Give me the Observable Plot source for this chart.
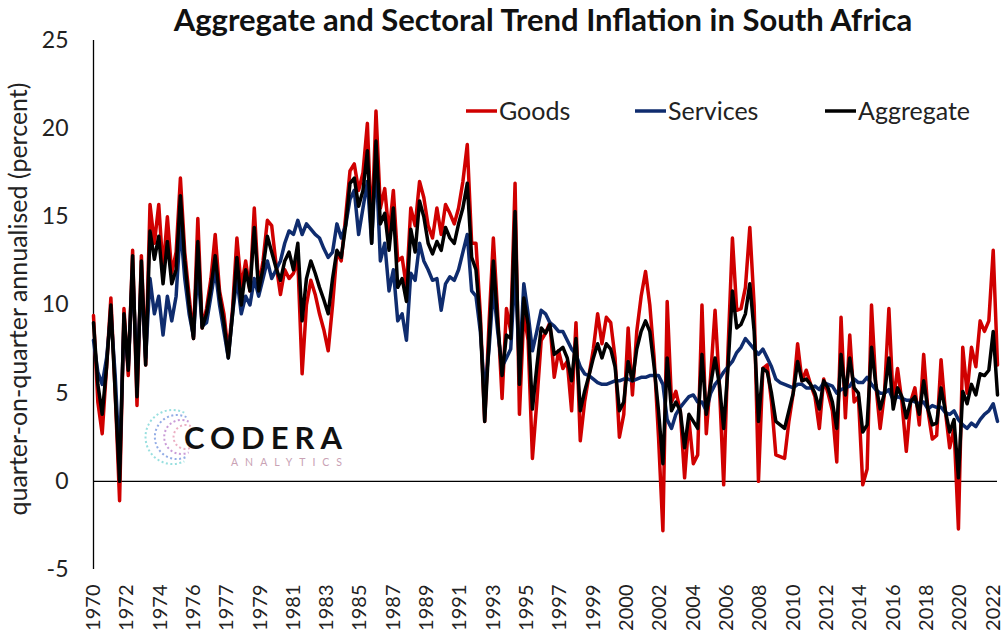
<!DOCTYPE html>
<html>
<head>
<meta charset="utf-8">
<script src="https://cdn.jsdelivr.net/npm/d3@7"></script>
<script src="https://cdn.jsdelivr.net/npm/@observablehq/plot@0.6"></script>
<style>
  html, body { margin: 0; padding: 0; background: #fff; }
  #wrap { position: relative; width: 1003px; height: 639px; overflow: hidden; background: #fff; }
  #overlay { position: absolute; left: 0; top: 0; pointer-events: none; }
</style>
</head>
<body>
<div id="wrap"></div>
<script>
// ---- Data (quarterly, 1970Q2 .. 2022Q2) ----
const firstYear = 1970, firstMonth = 3; // April 1970 (0-based month)
const seriesNames = ["Goods", "Services", "Aggregate"];
const seriesColors = ["#d00000", "#0f2c6e", "#000000"];

const goods = [
  9.4, 4.5, 2.7, 6.5, 10.4, 5.0, -1.1, 9.8, 6.0, 13.1,
  4.3, 12.8, 6.6, 15.7, 13.5, 15.7, 12.0, 15.0, 11.8, 13.0,
  17.2, 13.0, 10.5, 8.1, 14.9, 8.7, 9.8, 11.5, 14.0, 10.8,
  9.5, 7.3, 9.8, 13.8, 11.0, 12.5,
  10.8, 15.5, 11.0, 12.5, 14.8, 14.5, 12.3, 10.6, 12.0, 11.5,
  11.8, 12.5, 6.1, 10.0, 11.4, 10.6, 9.5, 8.6, 7.4, 10.0,
  13.0, 12.5, 15.0, 17.6, 18.0, 16.5, 17.5, 20.3, 14.0, 21.0,
  15.5, 16.6, 14.0, 16.5, 12.5, 12.7,
  11.0, 15.5, 14.5, 17.0, 16.1, 14.5, 13.8, 15.5, 14.0, 15.7,
  15.2, 14.6, 15.5, 17.0, 19.1, 13.5, 13.5, 9.5, 3.4, 9.0,
  13.8, 9.5, 4.7, 9.8, 8.5, 16.9, 3.8, 9.5, 8.0, 1.3,
  4.5, 8.0,
  8.4, 9.0, 5.9, 7.4, 6.4, 6.8, 4.0, 9.0, 2.3, 4.5,
  6.0, 7.5, 9.5, 7.8, 9.3, 9.0, 7.0, 2.5, 3.8, 8.7,
  4.9, 8.5, 10.5, 11.9, 10.0, 7.0, 2.5, -2.8, 10.2, 4.5,
  5.1, 4.0, 0.2, 3.5, 1.0,
  1.5, 10.0, 2.7, 6.0, 9.7, 5.5, -0.2, 7.5, 13.8, 9.7,
  9.8, 11.0, 14.4, 10.0, 0.0, 6.4, 6.6, 4.5, 1.5, 1.4,
  1.3, 3.4, 5.0, 7.8, 5.7, 6.3, 5.5, 4.8, 3.0, 5.8,
  5.0, 4.0, 1.1, 9.3,
  3.6, 8.3, 4.5, 4.8, -0.2, 0.7, 10.0, 5.5, 3.0, 5.0,
  9.8, 4.5, 6.4, 4.5, 1.7, 4.5, 5.3, 3.2, 7.2, 4.0,
  2.4, 2.6, 6.9, 4.0, 1.9, 3.0, -2.7, 7.6, 5.0, 7.6,
  6.5, 9.1, 8.5, 9.1, 13.1, 6.6
];

const services = [
  8.0, 6.2, 5.5, 7.0, 9.5, 6.0, 1.0, 9.0, 6.5, 12.0,
  6.0, 11.5, 7.0, 11.5, 9.5, 10.5, 8.3, 10.5, 9.1, 10.5,
  14.5, 11.5, 9.5, 8.2, 12.0, 8.8, 9.0, 10.5, 12.0, 10.0,
  8.5, 7.0, 9.5, 11.5, 9.5, 10.5,
  10.0, 11.5, 10.5, 11.5, 12.5, 11.5, 12.0, 12.5, 13.5, 14.2,
  14.0, 14.8, 14.0, 14.6, 14.3, 14.0, 13.8, 13.2, 12.7, 13.0,
  14.6, 13.8, 14.5, 16.0, 16.5, 14.0, 15.5, 17.0, 13.5, 18.2,
  12.5, 13.5, 10.8, 12.0, 9.1, 9.5,
  8.0, 11.8, 11.4, 13.5, 12.5, 12.0, 11.4, 11.5, 9.7, 11.2,
  11.6, 11.4, 12.0, 13.0, 14.0, 10.8, 10.5, 8.5, 5.0, 7.5,
  11.0, 8.5, 6.5, 7.0, 7.5, 12.0, 6.5, 11.2, 9.5, 7.4,
  8.5, 9.7,
  9.5, 9.0, 8.8, 8.5, 8.5, 8.0, 7.5, 7.2, 6.5, 6.1,
  6.0, 5.8, 5.6, 5.5, 5.5, 5.6, 5.7, 5.7, 5.8, 5.8,
  5.7, 5.8, 5.9, 5.9, 6.0, 6.0, 6.0, 5.5, 3.5, 3.0,
  3.8, 4.2, 4.5, 4.8, 4.9,
  4.5, 4.5, 4.0, 5.0, 5.5, 5.8, 6.2, 6.5, 6.8, 7.3,
  7.6, 8.1, 7.8, 7.5, 7.2, 7.5, 7.0, 6.5, 5.8, 5.6,
  5.5, 5.4, 5.3, 5.5, 5.5, 5.3, 5.3, 5.4, 5.2, 5.6,
  5.5, 5.4, 5.0, 5.2,
  5.3, 5.4, 5.8, 5.6, 5.6, 5.9, 5.5, 5.2, 5.0, 5.0,
  5.2, 4.6, 4.8, 4.7, 4.6, 4.6, 4.5, 4.4, 4.5, 4.1,
  4.3, 4.2, 4.2, 3.9, 3.8, 4.0, 3.5, 3.2, 3.0, 3.3,
  3.1, 3.5, 3.8, 4.0, 4.4, 3.4
];

const aggregate = [
  9.0, 5.5, 3.8, 6.5, 10.0, 5.0, 0.0, 9.5, 6.3, 12.8,
  4.8, 12.5, 6.6, 14.2, 12.6, 13.9, 11.2, 13.6, 11.2, 12.0,
  16.2, 12.5, 10.0, 8.1, 13.6, 8.7, 9.5, 11.0, 12.8, 10.5,
  9.0, 7.0, 9.5, 12.7, 10.0, 12.0,
  10.8, 14.4, 10.8, 12.1, 13.9, 13.0, 12.1, 11.4, 12.5, 13.0,
  12.0, 13.5, 9.1, 11.5, 12.5, 11.8, 11.0, 10.3, 9.5, 11.5,
  13.1, 12.7, 14.5, 16.9, 17.2, 15.6, 16.5, 18.75, 13.5, 19.3,
  14.6, 15.2, 13.1, 15.5, 11.0, 11.5,
  10.2, 14.3, 13.0, 15.9, 15.0, 13.5, 12.9, 13.6, 13.1, 14.4,
  13.8, 13.5, 14.6, 15.5, 16.9, 12.7, 12.0, 9.0, 3.4, 8.0,
  12.5, 9.0, 6.0, 8.3, 8.1, 15.3, 5.5, 10.4, 8.9, 4.1,
  6.5, 8.7,
  8.4, 8.9, 7.2, 7.4, 7.6, 7.0, 5.7, 8.1, 4.0, 5.1,
  6.0, 7.0, 7.8, 7.0, 7.8, 7.5, 6.5, 4.0, 4.5, 6.8,
  5.7, 7.5, 8.5, 9.1, 8.5, 6.5, 4.0, 1.0, 7.0, 4.0,
  4.5, 4.0, 1.9, 3.8, 3.4,
  3.0, 7.2, 3.8, 5.5, 7.0, 5.5, 3.0, 6.5, 10.8, 8.7,
  8.9, 9.5, 11.2, 8.5, 3.4, 6.4, 6.2, 5.0, 3.4, 3.2,
  3.0, 4.0, 5.0, 6.8, 5.7, 5.8, 5.5, 5.0, 4.1, 5.7,
  5.3, 4.5, 3.0, 7.2,
  4.9, 7.0, 5.3, 5.0, 2.8, 3.2, 7.6, 5.5, 4.1, 5.0,
  7.0, 4.1, 5.3, 4.8, 3.6, 4.5, 4.8, 3.8, 5.7, 4.1,
  3.2, 3.3, 5.3, 4.0, 2.8, 3.5, 0.2, 5.1, 4.4, 5.5,
  4.9, 6.1, 6.0, 6.3, 8.5, 4.9
];

const tickLabels = ["1970","1972","1974","1976","1977","1979","1981","1983","1985","1987",
  "1989","1991","1993","1995","1997","1999","2000","2002","2004","2006",
  "2008","2010","2012","2014","2016","2018","2020","2022"];
const tickStepMonths = 23;
const yTicks = [-5, 0, 5, 10, 15, 20, 25];

const titleText = "Aggregate and Sectoral Trend Inflation in South Africa";
const yTitle = "quarter-on-quarter annualised (percent)";

// ---- Build tables ----
const dateOf = i => new Date(Date.UTC(firstYear, firstMonth + 3 * i, 1));
const allSeries = [goods, services, aggregate];
const tables = allSeries.map((vals, s) => vals.map((v, i) => ({date: dateOf(i), value: v, series: seriesNames[s]})));
const tickDates = tickLabels.map((_, k) => new Date(Date.UTC(firstYear, firstMonth + tickStepMonths * k, 1)));
const labelByTime = new Map(tickDates.map((d, k) => [+d, tickLabels[k]]));
const xStart = dateOf(0), xEnd = dateOf(goods.length - 1);

const chart = Plot.plot({
  width: 1003,
  height: 639,
  marginLeft: 93,
  marginRight: 6,
  marginTop: 40,
  marginBottom: 70,
  style: {fontFamily: "Lato, sans-serif", background: "white", color: "#222"},
  x: {type: "utc", domain: [xStart, xEnd], label: null},
  y: {domain: [-5, 25], label: null},
  marks: [
    Plot.ruleY([0], {stroke: "#000", strokeWidth: 1.3}),
    Plot.ruleX([xStart], {stroke: "#000", strokeWidth: 1.3}),
    Plot.axisY({ticks: yTicks, tickFormat: d => `${d}`, tickSize: 0, tickPadding: 25, fontSize: 23,
      fontFamily: "Lato, sans-serif", label: null}),
    Plot.axisX({ticks: tickDates, tickFormat: d => labelByTime.get(+d), tickRotate: -90, tickSize: 0, tickPadding: 15,
      fontSize: 20, fontFamily: "Lato, sans-serif", label: null}),
    ...tables.map((t, s) => Plot.line(t, {x: "date", y: "value", stroke: seriesColors[s], strokeWidth: 3.5,
      strokeLinejoin: "round", strokeLinecap: "round"}))
  ]
});

const wrap = document.getElementById("wrap");
wrap.appendChild(chart);

// ---- Overlay: title, y title, legend, logo ----
const ns = "http://www.w3.org/2000/svg";
const ov = document.createElementNS(ns, "svg");
ov.setAttribute("id", "overlay");
ov.setAttribute("width", 1003);
ov.setAttribute("height", 639);
wrap.appendChild(ov);
function el(tag, attrs, text) {
  const e = document.createElementNS(ns, tag);
  for (const k in attrs) e.setAttribute(k, attrs[k]);
  if (text != null) e.textContent = text;
  ov.appendChild(e);
  return e;
}
el("text", {x: 543, y: 31, "text-anchor": "middle", "font-family": "Lato, sans-serif", "font-weight": 700,
  "font-size": 31, fill: "#111"}, titleText);
el("text", {transform: "translate(27,299) rotate(-90)", "text-anchor": "middle", "font-family": "Lato, sans-serif",
  "font-size": 25, fill: "#222"}, yTitle);

// legend
const legendX = [466, 635, 825];
seriesNames.forEach((name, s) => {
  el("line", {x1: legendX[s], x2: legendX[s] + 31, y1: 111, y2: 111, stroke: seriesColors[s], "stroke-width": 3.5});
  el("text", {x: legendX[s] + 33, y: 120, "font-family": "Lato, sans-serif", "font-size": 25, fill: "#222"}, name);
});

// logo
const logoColors = ["#e7a1b8", "#c08ad0", "#7f9ee0", "#86d9d9"];
const cx = 196, cy = 437;
[12, 17, 22, 27].forEach((r, k) => {
  el("path", {d: `M${cx + r * Math.cos(-Math.PI/2 - 0.45)},${cy + r * Math.sin(-Math.PI/2 - 0.45)} A${r},${r} 0 1 0 ${cx + r * Math.cos(Math.PI/2 + 0.45)},${cy + r * Math.sin(Math.PI/2 + 0.45)}`,
    fill: "none", stroke: logoColors[k], "stroke-width": 2, "stroke-dasharray": "2 2.5", opacity: 0.85});
});
el("text", {x: 184, y: 449, "font-family": "Lato, sans-serif", "font-weight": 700, "font-size": 31,
  "letter-spacing": 6, fill: "#111"}, "CODERA");
el("text", {x: 231, y: 466, "font-family": "Lato, sans-serif", "font-size": 10.5,
  "letter-spacing": 7, fill: "#c9a2b4"}, "ANALYTICS");
</script>
</body>
</html>
